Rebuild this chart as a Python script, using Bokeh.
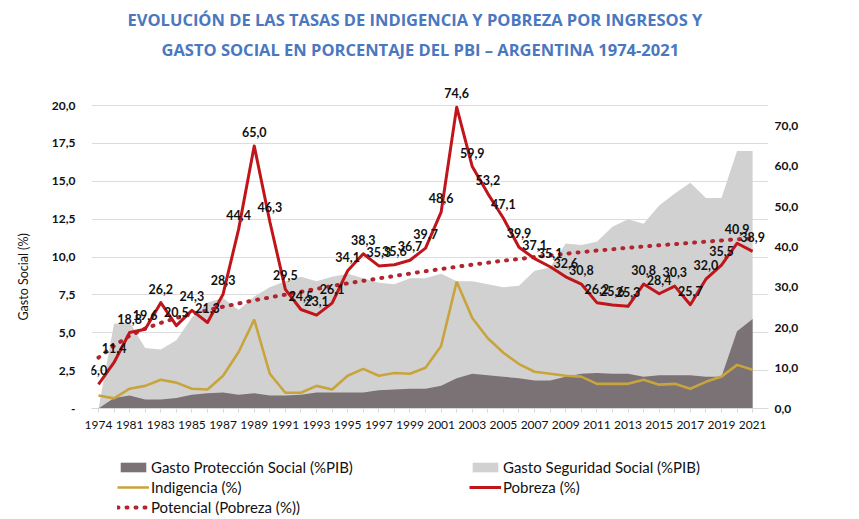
from bokeh.plotting import figure
from bokeh.layouts import column
from bokeh.models import (Range1d, LinearAxis, FixedTicker, Legend, LegendItem,
                          ColumnDataSource, Title)
from bokeh.core.properties import value
from bokeh.embed import file_html
from bokeh.resources import INLINE

# ---------------- data ----------------
years = ["1974", "1980", "1981", "1982", "1983", "1984", "1985", "1986", "1987",
         "1988", "1989", "1990", "1991", "1992", "1993", "1994", "1995", "1996",
         "1997", "1998", "1999", "2000", "2001", "2002", "2003", "2004", "2005",
         "2006", "2007", "2008", "2009", "2010", "2011", "2012", "2013", "2014",
         "2015", "2016", "2017", "2018", "2019", "2020", "2021"]

gasto_proteccion = [0.0, 0.7, 0.85, 0.6, 0.6, 0.7, 0.9, 1.0, 1.05, 0.9, 1.0, 0.85,
                    0.85, 0.9, 1.05, 1.05, 1.05, 1.05, 1.2, 1.25, 1.3, 1.3, 1.5,
                    2.0, 2.3, 2.2, 2.1, 2.0, 1.85, 1.85, 2.1, 2.3, 2.35, 2.3, 2.3,
                    2.1, 2.2, 2.2, 2.2, 2.1, 2.1, 5.1, 5.9]

gasto_seguridad = [0.0, 5.6, 5.7, 4.0, 3.9, 4.5, 6.0, 7.0, 7.3, 6.5, 7.4, 8.0,
                   8.4, 8.7, 8.4, 8.7, 8.9, 8.6, 8.3, 8.2, 8.6, 8.6, 8.9, 8.4,
                   8.4, 8.2, 8.0, 8.1, 9.1, 9.3, 10.9, 10.8, 11.0, 12.0, 12.5,
                   12.2, 13.4, 14.2, 14.9, 13.9, 13.9, 17.0, 17.0]

indigencia = [3.2, 2.5, 4.9, 5.6, 7.1, 6.4, 4.9, 4.7, 8.1, 14.0, 22.0, 8.6, 3.9,
              3.9, 5.6, 4.7, 8.1, 9.8, 8.1, 8.8, 8.6, 10.1, 15.5, 31.4, 22.4,
              17.4, 13.8, 11.0, 9.1, 8.6, 8.1, 7.9, 6.1, 6.1, 6.1, 7.1, 5.9, 6.1,
              4.9, 6.6, 7.9, 10.8, 9.6]

pobreza = [6.0, 11.4, 18.8, 19.6, 26.2, 20.5, 24.3, 21.3, 28.3, 44.4, 65.0, 46.3,
           29.5, 24.5, 23.1, 26.1, 34.1, 38.3, 35.3, 35.6, 36.7, 39.7, 48.6, 74.6,
           59.9, 53.2, 47.1, 39.9, 37.1, 35.1, 32.6, 30.8, 26.2, 25.6, 25.3, 30.8,
           28.4, 30.3, 25.7, 32.0, 35.5, 40.9, 38.9]

potencial = [12.6, 15.5, 18.0, 19.8, 21.2, 22.4, 23.4, 24.3, 25.2, 26.0, 26.8,
             27.5, 28.2, 28.9, 29.6, 30.3, 31.0, 31.6, 32.2, 32.8, 33.4, 34.0,
             34.5, 35.1, 35.6, 36.1, 36.6, 37.0, 37.5, 37.9, 38.3, 38.7, 39.1,
             39.4, 39.8, 40.1, 40.4, 40.7, 41.0, 41.3, 41.6, 41.9, 42.1]

left_ticks = [0, 2.5, 5, 7.5, 10, 12.5, 15, 17.5, 20]
right_ticks = [0, 10, 20, 30, 40, 50, 60, 70]

title_1 = "EVOLUCIÓN DE LAS TASAS DE INDIGENCIA Y POBREZA POR INGRESOS Y"
title_2 = "GASTO SOCIAL EN PORCENTAJE DEL PBI – ARGENTINA 1974-2021"
y_title = "Gasto Social  (%)"

# ---------------- helpers ----------------
def comma(v):
    return f"{v:.1f}".replace(".", ",")

idx = list(range(len(years)))
src = ColumnDataSource(dict(
    x=idx, prot=gasto_proteccion, seg=gasto_seguridad, ind=indigencia,
    pob=pobreza, pot=potencial, lab=[comma(v) for v in pobreza],
))

FONT = "Lato"
TFONT = "Open Sans"
TCOLOR = "#4a78c0"
C_PROT, C_SEG = "#7a7274", "#d2d1d1"
C_IND, C_POB, C_POT = "#c8a43c", "#c0151b", "#b0252f"
LEFT_MAX = 21.52
RIGHT_MAX = LEFT_MAX * 75 / 20

p = figure(width=859, height=440, output_backend="svg", toolbar_location=None,
           x_range=Range1d(-0.4475, 43.02), y_range=Range1d(0, LEFT_MAX),
           min_border_left=88, min_border_right=91, min_border_top=82,
           min_border_bottom=32, title=None)
p.outline_line_color = None
p.background_fill_color = "white"
p.border_fill_color = "white"
p.extra_y_ranges = {"right": Range1d(0, RIGHT_MAX)}

# areas (left axis)
p.varea(x="x", y1=0, y2="seg", source=src, fill_color=C_SEG)
p.varea(x="x", y1=0, y2="prot", source=src, fill_color=C_PROT)

# lines (right axis)
p.line(x="x", y="ind", source=src, y_range_name="right",
       line_color=C_IND, line_width=2.6)
p.line(x="x", y="pot", source=src, y_range_name="right",
       line_color=C_POT, line_width=4, line_dash="1 8", line_cap="round")
p.line(x="x", y="pob", source=src, y_range_name="right",
       line_color=C_POB, line_width=3, line_join="round")

p.text(x="x", y="pob", text="lab", source=src, y_range_name="right",
       text_align="center", text_baseline="middle", y_offset=-14,
       text_font=value(FONT), text_font_style="bold", text_font_size="12.5px",
       text_color="#111111")

# ---------------- axes ----------------
xa = p.xaxis[0]
xa.ticker = FixedTicker(ticks=idx)
xa.major_label_overrides = {i: (years[i] if i % 2 == 0 else "") for i in idx}
xa.axis_line_color = "#d9d9d9"
xa.major_tick_line_color = "#d9d9d9"
xa.major_tick_out = 4
xa.major_tick_in = 0
xa.minor_tick_line_color = None
xa.major_label_standoff = 8
xa.major_label_text_font = FONT
xa.major_label_text_font_size = "12px"
xa.major_label_text_color = "#111111"

ya = p.yaxis[0]
ya.ticker = FixedTicker(ticks=left_ticks)
ya.major_label_overrides = {t: ("-" if t == 0 else comma(t)) for t in left_ticks}
ya.axis_line_color = None
ya.major_tick_line_color = None
ya.major_tick_out = 0
ya.major_tick_in = 0
ya.minor_tick_line_color = None
ya.major_label_standoff = 16
ya.major_label_text_font = FONT
ya.major_label_text_font_style = "bold"
ya.major_label_text_font_size = "12px"
ya.major_label_text_color = "#111111"

ra = LinearAxis(y_range_name="right", ticker=FixedTicker(ticks=right_ticks))
ra.major_label_overrides = {t: comma(t) for t in right_ticks}
ra.axis_line_color = None
ra.major_tick_line_color = None
ra.major_tick_out = 0
ra.major_tick_in = 0
ra.minor_tick_line_color = None
ra.major_label_standoff = 6
ra.major_label_text_font = FONT
ra.major_label_text_font_style = "bold"
ra.major_label_text_font_size = "12px"
ra.major_label_text_color = "#111111"
p.add_layout(ra, "right")

p.xgrid.visible = False
p.ygrid.ticker = FixedTicker(ticks=left_ticks[1:])
p.ygrid.grid_line_color = "#dcdcdc"

# ---------------- titles ----------------
# spacer between the plot area and the two title lines
p.add_layout(Title(text="\u00a0", standoff=16, text_font_size="1px"), "above")
p.add_layout(Title(text=title_2, align="left", offset=70, standoff=5,
                   text_font=TFONT, text_font_style="bold",
                   text_font_size="16.5px", text_color=TCOLOR), "above")
p.add_layout(Title(text=title_1, align="left", offset=36, standoff=5,
                   text_font=TFONT, text_font_style="bold",
                   text_font_size="16.5px", text_color=TCOLOR), "above")
p.add_layout(Title(text=y_title, align="left", offset=88, standoff=31,
                   vertical_align="top", text_font=FONT,
                   text_font_style="normal", text_font_size="12.5px",
                   text_color="#111111"), "left")

# ---------------- legend (own strip below the chart) ----------------
lg = figure(width=859, height=79, output_backend="svg", toolbar_location=None,
            x_range=Range1d(0, 1), y_range=Range1d(0, 1),
            x_axis_type=None, y_axis_type=None, title=None,
            min_border_left=0, min_border_right=0, min_border_top=0,
            min_border_bottom=0)
lg.outline_line_color = None
lg.xgrid.visible = False
lg.ygrid.visible = False
# swatch renderers: their points lie outside the (0, 1) view, only the legend shows them
far_x, far_lo, far_hi = [5, 6], [5, 5], [6, 6]
g_prot = lg.varea(x=far_x, y1=far_lo, y2=far_hi, fill_color=C_PROT)
g_seg = lg.varea(x=far_x, y1=far_lo, y2=far_hi, fill_color=C_SEG)
g_ind = lg.line(x=far_x, y=far_lo, line_color=C_IND, line_width=2.6)
g_pob = lg.line(x=far_x, y=far_lo, line_color=C_POB, line_width=3)
g_pot = lg.line(x=far_x, y=far_lo, line_color=C_POT, line_width=4,
                line_dash="1 8", line_cap="round")

def make_legend(items, loc):
    return Legend(items=items, location=loc, orientation="vertical",
                  padding=0, margin=0, spacing=0, glyph_width=32,
                  glyph_height=12, label_height=20, label_standoff=2,
                  border_line_color=None, background_fill_alpha=0,
                  label_text_font=FONT, label_text_font_size="15px",
                  label_text_color="#111111")

lg.add_layout(make_legend([
    LegendItem(label="Gasto Protección Social (%PIB)", renderers=[g_prot]),
    LegendItem(label="Indigencia (%)", renderers=[g_ind]),
    LegendItem(label="Potencial (Pobreza (%))", renderers=[g_pot]),
], (26, 2)))
lg.add_layout(make_legend([
    LegendItem(label="Gasto Seguridad Social (%PIB)", renderers=[g_seg]),
    LegendItem(label="Pobreza (%)", renderers=[g_pob]),
], (378, 22)))

page = column(p, lg, spacing=0)
open("out.html", "w").write(file_html(page, INLINE))
